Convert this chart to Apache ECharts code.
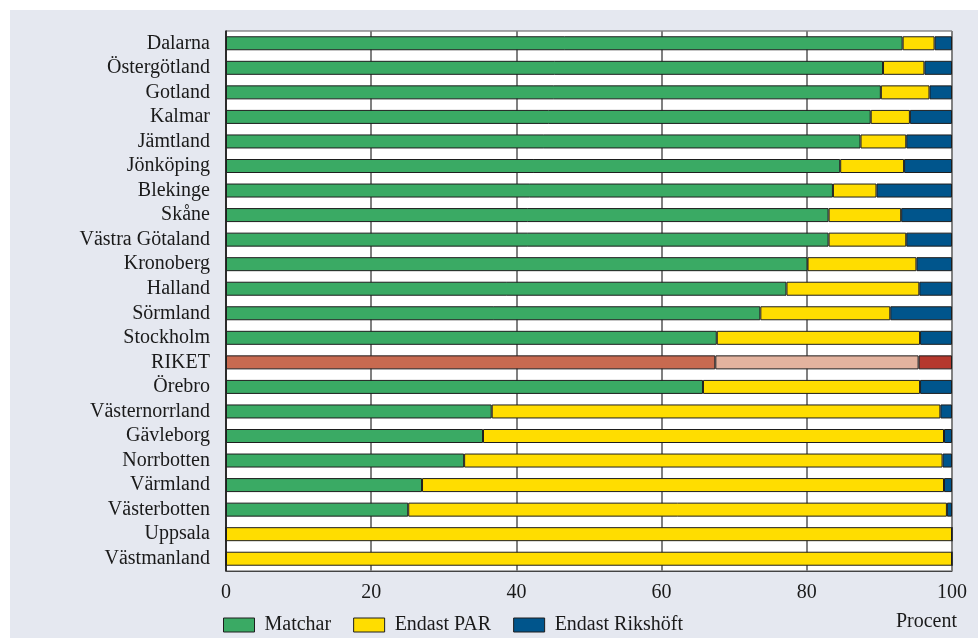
<!DOCTYPE html>
<html>
<head>
<meta charset="utf-8">
<script src="https://cdn.jsdelivr.net/npm/echarts@6/dist/echarts.min.js"></script>
<style>
    html, body { margin: 0; padding: 0; background: #fff; }
    #main { width: 978px; height: 638px; }
</style>
</head>
<body>
<div id="main"></div>
<script>
var categories = ['Dalarna', 'Östergötland', 'Gotland', 'Kalmar', 'Jämtland', 'Jönköping', 'Blekinge',
    'Skåne', 'Västra Götaland', 'Kronoberg', 'Halland', 'Sörmland', 'Stockholm', 'RIKET', 'Örebro',
    'Västernorrland', 'Gävleborg', 'Norrbotten', 'Värmland', 'Västerbotten', 'Uppsala', 'Västmanland'];
var matchar = [93.2, 90.5, 90.2, 88.8, 87.4, 84.6, 83.6, 83.0, 83.0, 80.1, 77.2, 73.6, 67.6, 67.4, 65.7,
    36.6, 35.4, 32.8, 27.0, 25.1, 0, 0];
var endastPar = [4.4, 5.7, 6.7, 5.4, 6.3, 8.8, 6.0, 10.0, 10.7, 15.0, 18.3, 17.9, 28.0, 28.0, 29.9,
    61.8, 63.5, 65.9, 71.9, 74.2, 100, 100];
var endastRikshoft = [2.4, 3.8, 3.1, 5.8, 6.3, 6.6, 10.4, 7.0, 6.3, 4.9, 4.5, 8.5, 4.4, 4.6, 4.4,
    1.6, 1.1, 1.3, 1.1, 0.7, 0, 0];
var xTicks = [0, 20, 40, 60, 80, 100];

var font = '"Liberation Serif", "DejaVu Serif", serif';

// RIKET-raden får egna färger
function withRiket(values, riketColor) {
    var out = [];
    for (var i = 0; i < values.length; i++) {
        if (categories[i] === 'RIKET') {
            out.push({ value: values[i], itemStyle: { color: riketColor } });
        } else {
            out.push(values[i]);
        }
    }
    return out;
}

function barSeries(name, data, color, riketColor) {
    return {
        name: name,
        type: 'bar',
        stack: 'total',
        barWidth: 14,
        data: withRiket(data, riketColor),
        itemStyle: {
            color: color,
            borderColor: '#1e1e1e',
            borderWidth: 1
        }
    };
}

var myChart = echarts.init(document.getElementById('main'));
var option = {
    backgroundColor: '#ffffff',
    animation: false,
    graphic: [{
        type: 'rect',
        z: -10,
        shape: { x: 10, y: 10, width: 968, height: 628 },
        style: { fill: '#e5e8f0' }
    }, {
        type: 'text',
        right: 21,
        top: 612,
        style: { text: 'Procent', font: '20px ' + font, fill: '#1a1a1a' }
    }],
    legend: {
        left: 218,
        top: 610,
        icon: 'rect',
        itemWidth: 31,
        itemHeight: 14,
        itemGap: 22,
        data: ['Matchar', 'Endast PAR', 'Endast Rikshöft'],
        textStyle: { fontFamily: font, fontSize: 20, color: '#1a1a1a', padding: [0, 0, 0, 5] },
        itemStyle: { borderColor: '#1e1e1e', borderWidth: 1 }
    },
    grid: {
        left: 226,
        right: 26,
        top: 31,
        bottom: 67,
        show: true,
        backgroundColor: '#ffffff',
        borderColor: '#555',
        borderWidth: 1
    },
    xAxis: {
        type: 'value',
        min: 0,
        max: 100,
        interval: 20,
        axisLine: { show: true, lineStyle: { color: '#444', width: 1 } },
        axisTick: { show: false },
        splitLine: { show: true, lineStyle: { color: '#808080', width: 2 } },
        axisLabel: {
            margin: 12,
            fontFamily: font,
            fontSize: 20,
            color: '#1a1a1a',
            formatter: function (v) { return xTicks.indexOf(v) >= 0 ? String(v) : ''; }
        }
    },
    yAxis: {
        type: 'category',
        inverse: true,
        data: categories,
        axisLine: { show: true, lineStyle: { color: '#111', width: 1.5 } },
        axisTick: { show: false },
        splitLine: { show: false },
        axisLabel: {
            interval: 0,
            margin: 16,
            fontFamily: font,
            fontSize: 20,
            color: '#1a1a1a'
        }
    },
    series: [
        barSeries('Matchar', matchar, '#3aaa64', '#c86a50'),
        barSeries('Endast PAR', endastPar, '#ffdd00', '#e3b39f'),
        barSeries('Endast Rikshöft', endastRikshoft, '#00558c', '#b5382d')
    ]
};
myChart.setOption(option);
</script>
</body>
</html>
